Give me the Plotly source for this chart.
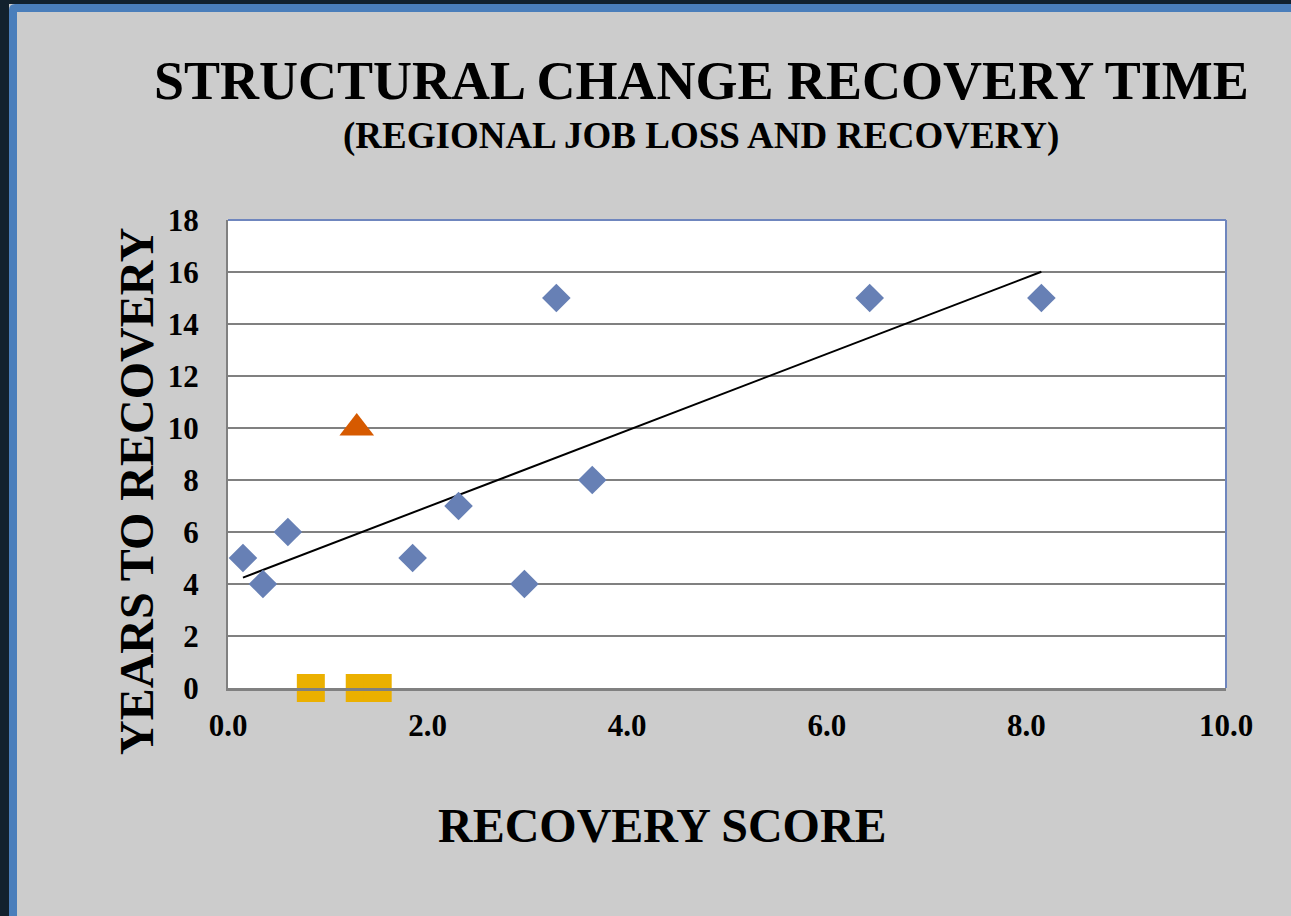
import numpy as np
import plotly.graph_objects as go

# regions: recovery score vs years to recovery
diamond_x = [0.15, 0.35, 0.60, 1.85, 2.31, 2.97, 3.29, 3.65, 6.43, 8.15]
diamond_y = [5, 4, 6, 5, 7, 4, 15, 8, 15, 15]
triangle_x = [1.29]
triangle_y = [10]
square_x = [0.83, 1.32, 1.50]
square_y = [0, 0, 0]

COLORS = {
    "diamond": "#6780b5",
    "triangle": "#d65a00",
    "square": "#ebb000",
    "grid": "#808080",
    "frame": "#6f86be",
    "bg": "#cccccc",
    "dark": "#12212e",
    "border": "#4a7ebb",
}
FONT = "Liberation Serif, Times New Roman, serif"

W, H = 1291, 916
L, R, T, B = 228, 1226, 220, 688


def px_x(p):
    return (p - L) / (R - L)


def px_y(p):
    return (B - p) / (B - T)


# linear trendline through the diamond series
slope, intercept = np.polyfit(diamond_x, diamond_y, 1)
trend_x = [min(diamond_x), max(diamond_x)]
trend_y = [slope * x + intercept for x in trend_x]

fig = go.Figure()
fig.add_trace(go.Scatter(
    x=trend_x, y=trend_y, mode="lines",
    line=dict(color="black", width=2), hoverinfo="skip",
))
fig.add_trace(go.Scatter(
    x=diamond_x, y=diamond_y, mode="markers",
    marker=dict(symbol="diamond", size=22, color=COLORS["diamond"]),
    cliponaxis=False,
))
fig.add_trace(go.Scatter(
    x=triangle_x, y=triangle_y, mode="markers",
    marker=dict(symbol="triangle-up", size=30, color=COLORS["triangle"]),
    cliponaxis=False,
))
fig.add_trace(go.Scatter(
    x=square_x, y=square_y, mode="markers",
    marker=dict(symbol="square", size=28, color=COLORS["square"]),
    cliponaxis=False,
))

shapes = [
    # dark outer edge and blue border of the slide
    dict(type="rect", x0=px_x(-10), x1=px_x(9), y0=px_y(930), y1=px_y(-10),
         fillcolor=COLORS["dark"], line_width=0, layer="below"),
    dict(type="rect", x0=px_x(-10), x1=px_x(1300), y0=px_y(4), y1=px_y(-10),
         fillcolor=COLORS["dark"], line_width=0, layer="below"),
    dict(type="path",
         path=(f"M {px_x(9)},{px_y(930)} L {px_x(9)},{px_y(10)} "
               f"Q {px_x(9)},{px_y(4)} {px_x(15)},{px_y(4)} "
               f"L {px_x(1300)},{px_y(4)} L {px_x(1300)},{px_y(12)} "
               f"L {px_x(17)},{px_y(12)} L {px_x(17)},{px_y(930)} Z"),
         fillcolor=COLORS["border"], line_width=0, layer="below"),
    # top and right edges of the plot area
    dict(type="line", x0=0, x1=1, y0=1, y1=1,
         line=dict(color=COLORS["frame"], width=2)),
    dict(type="line", x0=1, x1=1, y0=0, y1=1,
         line=dict(color=COLORS["frame"], width=2)),
]
for s in shapes:
    s["xref"] = "paper"
    s["yref"] = "paper"

annotations = [
    dict(text="STRUCTURAL CHANGE RECOVERY TIME", x=px_x(701), y=px_y(81),
         font=dict(size=54, weight="bold")),
    dict(text="(REGIONAL JOB LOSS AND RECOVERY)", x=px_x(701), y=px_y(136),
         font=dict(size=37, weight="bold")),
    dict(text="YEARS TO RECOVERY", x=px_x(137), y=px_y(492), textangle=-90,
         font=dict(size=48, weight="bold")),
    dict(text="RECOVERY SCORE", x=px_x(662), y=px_y(825),
         font=dict(size=48, weight="bold")),
]
for a in annotations:
    a.update(xref="paper", yref="paper", showarrow=False,
             xanchor="center", yanchor="middle")
    a["font"].update(family=FONT, color="black")

fig.update_layout(
    width=W, height=H,
    margin=dict(l=L, r=W - R, t=T, b=H - B),
    paper_bgcolor=COLORS["bg"], plot_bgcolor="white",
    showlegend=False,
    font=dict(family=FONT, color="black", size=31, weight="bold"),
    shapes=shapes, annotations=annotations,
)
fig.update_xaxes(
    range=[0, 10], dtick=2, tickformat=".1f",
    showgrid=False, zeroline=False,
    showline=True, linecolor=COLORS["grid"], linewidth=3,
    ticks="", ticklabelstandoff=8,
    tickfont=dict(family=FONT, size=31, weight="bold"),
)
fig.update_yaxes(
    range=[0, 18], dtick=2,
    showgrid=True, gridcolor=COLORS["grid"], gridwidth=2,
    zeroline=False,
    showline=True, linecolor=COLORS["grid"], linewidth=2,
    ticks="", ticklabelstandoff=21,
    tickfont=dict(family=FONT, size=31, weight="bold"),
)

# drop the default body margin so the figure fills the window
fig.write_html(
    "out.html",
    config={"displayModeBar": False},
    post_script="document.body.style.margin='0';"
                "document.body.style.background='#12212e';"
                "document.body.style.overflow='hidden';",
)
